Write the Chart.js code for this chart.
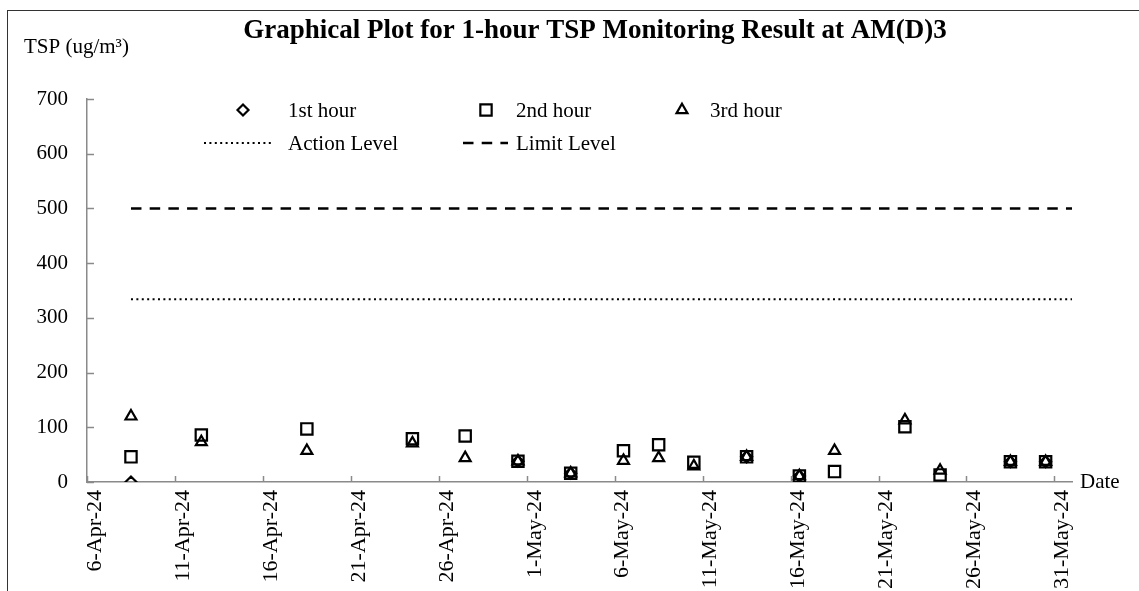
<!DOCTYPE html>
<html>
<head>
<meta charset="utf-8">
<script src="https://cdn.jsdelivr.net/npm/chart.js@4.4.1/dist/chart.umd.min.js"></script>
<style>
  html, body { margin: 0; padding: 0; background: #fff; }
  #wrap { position: relative; width: 1139px; height: 591px; overflow: hidden; }
  #frame { position: absolute; left: 7px; top: 10px; width: 1200px; height: 700px; border: 1.5px solid #333; }
  #tspChart { position: absolute; left: 0; top: 0; }
</style>
</head>
<body>
<div id="wrap">
  <div id="frame"></div>
  <canvas id="tspChart" width="1139" height="591"></canvas>
</div>
<script>
// monitoring days and 1-hour TSP results (ug/m3)
const sampleDates = ['8-Apr-24', '12-Apr-24', '18-Apr-24', '24-Apr-24', '27-Apr-24', '30-Apr-24',
  '3-May-24', '6-May-24', '8-May-24', '10-May-24', '13-May-24', '16-May-24', '18-May-24',
  '22-May-24', '24-May-24', '28-May-24', '30-May-24'];
const firstHour  = [0, null, null, null, null, 38, 16, null, null, null, 46, 11, null, null, null, 37, 37];
const secondHour = [46, 86, 97, 79, 84, 38, 16, 57, 68, 36, 46, 11, 19, 101, 13, 37, 37];
const thirdHour  = [120, 73, 57, 71, 44, 38, 16, 39, 44, 29, 46, 11, 57, 113, 21, 37, 37];

const actionLevel = 334;
const limitLevel = 500;

const axisStart = '6-Apr-24';
const axisEnd = '1-Jun-24';
const tickLabels = ['6-Apr-24', '11-Apr-24', '16-Apr-24', '21-Apr-24', '26-Apr-24', '1-May-24',
  '6-May-24', '11-May-24', '16-May-24', '21-May-24', '26-May-24', '31-May-24'];
const yTicks = [0, 100, 200, 300, 400, 500, 600, 700];

const MONTHS = ['Jan', 'Feb', 'Mar', 'Apr', 'May', 'Jun', 'Jul', 'Aug', 'Sep', 'Oct', 'Nov', 'Dec'];
function toDay(str) {
  const [d, m, y] = str.split('-');
  return Date.UTC(2000 + Number(y), MONTHS.indexOf(m), Number(d)) / 86400000;
}
const day0 = toDay(axisStart);
const xMax = toDay(axisEnd) - day0;
// samples are plotted in the middle of their day
const sampleX = sampleDates.map(s => toDay(s) - day0 + 0.5);

function points(values) {
  return values.map((v, i) => ({ x: sampleX[i], y: v })).filter(p => p.y !== null);
}
function level(value) {
  return [{ x: sampleX[0], y: value }, { x: xMax, y: value }];
}

const FONT = "'Liberation Serif', 'Times New Roman', serif";
const AXIS_GREY = '#8a8a8a';

const markerBase = {
  type: 'scatter',
  showLine: false,
  borderColor: '#000',
  backgroundColor: 'rgba(0,0,0,0)',
  pointBorderWidth: 2.2,
  pointHoverRadius: 6
};

// small tick marks pointing into the plot area
const inwardTicks = {
  id: 'inwardTicks',
  afterDraw(chart) {
    const { ctx, chartArea: a, scales: { x, y } } = chart;
    ctx.save();
    ctx.strokeStyle = AXIS_GREY;
    ctx.lineWidth = 1.5;
    ctx.beginPath();
    y.ticks.forEach(t => {
      const py = Math.round(y.getPixelForValue(t.value)) + 0.5;
      ctx.moveTo(a.left, py);
      ctx.lineTo(a.left + 7, py);
    });
    x.ticks.forEach(t => {
      const px = Math.round(x.getPixelForValue(t.value)) + 0.5;
      ctx.moveTo(px, a.bottom);
      ctx.lineTo(px, a.bottom - 6);
    });
    ctx.stroke();
    ctx.restore();
  }
};

// title, axis captions and the two-row legend
const captions = {
  id: 'captions',
  afterDraw(chart) {
    const { ctx, chartArea: a } = chart;
    ctx.save();
    ctx.fillStyle = '#000';
    ctx.textBaseline = 'middle';

    ctx.font = 'bold 27px ' + FONT;
    ctx.textAlign = 'center';
    ctx.fillText('Graphical Plot for 1-hour TSP Monitoring Result at AM(D)3', 595, 31);

    ctx.font = '21px ' + FONT;
    ctx.textAlign = 'left';
    ctx.fillText('TSP (ug/m\u00B3)', 24, 47);
    ctx.fillText('Date', a.right + 8, a.bottom);

    const sets = chart.data.datasets;
    const markerItems = [
      { ds: sets[0], mx: 243, tx: 288 },
      { ds: sets[1], mx: 486, tx: 516 },
      { ds: sets[2], mx: 682, tx: 710 }
    ];
    markerItems.forEach(it => {
      ctx.strokeStyle = '#000';
      ctx.fillStyle = 'rgba(0,0,0,0)';
      ctx.lineWidth = 2.2;
      ctx.setLineDash([]);
      Chart.helpers.drawPoint(ctx, {
        pointStyle: it.ds.pointStyle,
        radius: it.ds.pointRadius,
        rotation: 0,
        borderWidth: 2.2
      }, it.mx, 110);
      ctx.fillStyle = '#000';
      ctx.fillText(it.ds.label, it.tx, 111);
    });

    const lineItems = [
      { ds: sets[3], x1: 204, x2: 273, tx: 288 },
      { ds: sets[4], x1: 463, x2: 508, tx: 516 }
    ];
    lineItems.forEach(it => {
      ctx.strokeStyle = '#000';
      ctx.lineWidth = it.ds.borderWidth;
      ctx.setLineDash(it.ds.borderDash);
      ctx.beginPath();
      ctx.moveTo(it.x1, 143);
      ctx.lineTo(it.x2, 143);
      ctx.stroke();
      ctx.setLineDash([]);
      ctx.fillStyle = '#000';
      ctx.fillText(it.ds.label, it.tx, 144);
    });
    ctx.restore();
  }
};

Chart.defaults.font.family = FONT;
Chart.defaults.color = '#000';

new Chart(document.getElementById('tspChart'), {
  data: {
    datasets: [
      Object.assign({}, markerBase, {
        label: '1st hour', data: points(firstHour), pointStyle: 'rectRot', pointRadius: 5.5
      }),
      Object.assign({}, markerBase, {
        label: '2nd hour', data: points(secondHour), pointStyle: 'rect', pointRadius: 8
      }),
      Object.assign({}, markerBase, {
        label: '3rd hour', data: points(thirdHour), pointStyle: 'triangle', pointRadius: 6.3
      }),
      {
        type: 'line', label: 'Action Level', data: level(actionLevel),
        borderColor: '#000', borderWidth: 2, borderDash: [2, 3.4], pointRadius: 0, fill: false
      },
      {
        type: 'line', label: 'Limit Level', data: level(limitLevel),
        borderColor: '#000', borderWidth: 2.5, borderDash: [10.5, 8.2], pointRadius: 0, fill: false
      }
    ]
  },
  options: {
    responsive: false,
    animation: false,
    layout: { padding: { left: 0, right: 67, top: 99, bottom: 0 } },
    plugins: {
      legend: { display: false },
      title: { display: false },
      tooltip: { enabled: false }
    },
    scales: {
      x: {
        type: 'linear',
        min: 0,
        max: xMax,
        afterFit(scale) { scale.height = 109; },
        afterBuildTicks(scale) {
          scale.ticks = tickLabels.map(l => ({ value: toDay(l) - day0 }));
        },
        ticks: {
          autoSkip: false,
          minRotation: 90,
          maxRotation: 90,
          labelOffset: 8,
          padding: 8,
          font: { size: 22 },
          callback: (v, i) => tickLabels[i]
        },
        grid: { display: true, drawOnChartArea: false, drawTicks: false },
        border: { color: AXIS_GREY, width: 1.5 }
      },
      y: {
        min: yTicks[0],
        max: yTicks[yTicks.length - 1],
        afterFit(scale) { scale.width = 87; },
        afterBuildTicks(scale) {
          scale.ticks = yTicks.map(v => ({ value: v }));
        },
        ticks: { padding: 19, font: { size: 21 } },
        grid: { display: true, drawOnChartArea: false, drawTicks: false },
        border: { color: AXIS_GREY, width: 1.5 }
      }
    }
  },
  plugins: [inwardTicks, captions]
});
</script>
</body>
</html>
